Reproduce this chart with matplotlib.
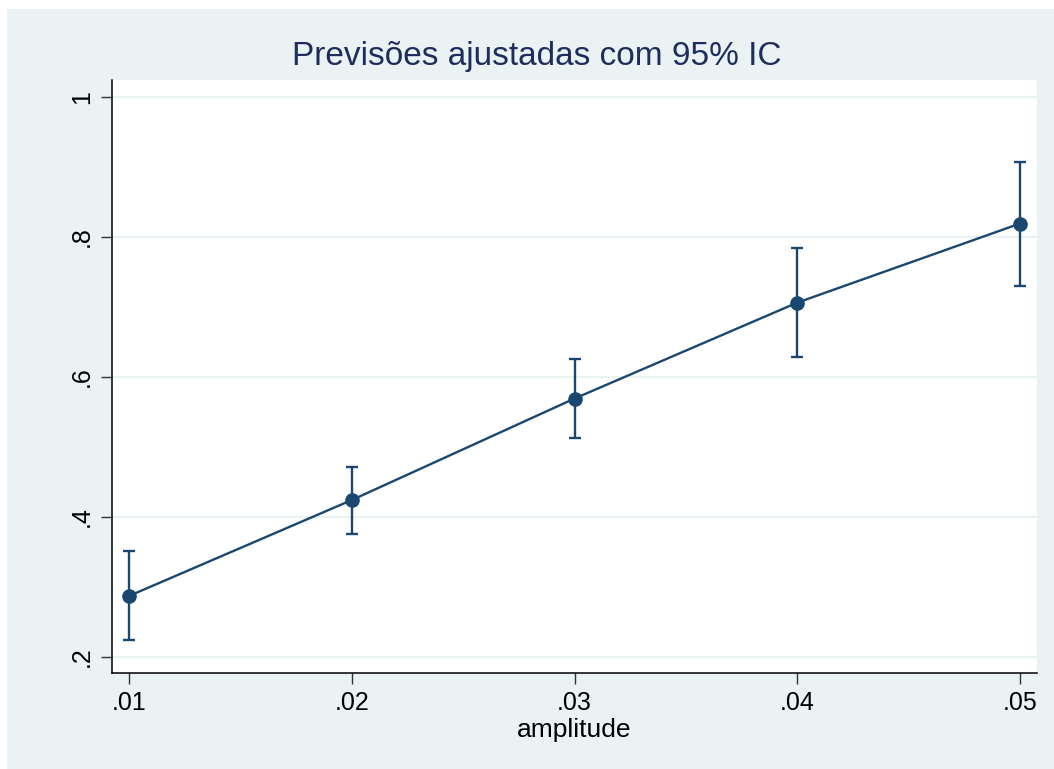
"""Margens ajustadas com IC de 95% por amplitude (matplotlib)."""
import matplotlib.pyplot as plt
from matplotlib.patches import Rectangle

plt.rcParams["font.family"] = ["Liberation Sans", "DejaVu Sans"]

# valores previstos e limites do IC 95%
amplitude = [0.01, 0.02, 0.03, 0.04, 0.05]
previsto = [0.287, 0.424, 0.569, 0.706, 0.819]
ic_inf = [0.224, 0.376, 0.513, 0.629, 0.730]
ic_sup = [0.351, 0.471, 0.626, 0.784, 0.907]

xticks = [0.01, 0.02, 0.03, 0.04, 0.05]
xticklabels = [".01", ".02", ".03", ".04", ".05"]
yticks = [0.2, 0.4, 0.6, 0.8, 1.0]
yticklabels = [".2", ".4", ".6", ".8", "1"]

NAVY = "#1a476f"
BG = "#eaf2f3"

fig = plt.figure(figsize=(10.54, 7.69), dpi=100, facecolor=BG)
# faixa branca no topo e à esquerda
fig.patches.append(Rectangle((0, 1 - 9 / 769), 1, 9 / 769, transform=fig.transFigure,
                             facecolor="white", edgecolor="none", zorder=0))
fig.patches.append(Rectangle((0, 0), 7 / 1054, 1, transform=fig.transFigure,
                             facecolor="white", edgecolor="none", zorder=0))

ax = fig.add_axes([112 / 1054, 96 / 769, 925 / 1054, 593 / 769])
ax.set_facecolor("white")

err_low = [p - lo for p, lo in zip(previsto, ic_inf)]
err_high = [hi - p for p, hi in zip(previsto, ic_sup)]
ax.errorbar(amplitude, previsto, yerr=[err_low, err_high], fmt="none",
            ecolor=NAVY, elinewidth=1.7, capsize=4, capthick=1.7, zorder=3)
ax.plot(amplitude, previsto, "o-", color=NAVY, linewidth=1.7, markersize=9.5, zorder=4)

ax.set_xlim(0.00924, 0.05076)
ax.set_ylim(0.177, 1.024)
ax.set_xticks(xticks)
ax.set_xticklabels(xticklabels)
ax.set_yticks(yticks)
ax.set_yticklabels(yticklabels, rotation=90, va="center")
ax.tick_params(axis="both", length=8, width=1, color="#333333", labelsize=18, pad=5)
ax.grid(axis="y", color=BG, linewidth=1.6)
ax.set_axisbelow(True)

for side in ["top", "right"]:
    ax.spines[side].set_visible(False)
for side in ["left", "bottom"]:
    ax.spines[side].set_color("black")
    ax.spines[side].set_linewidth(1.1)

ax.set_xlabel("amplitude", fontsize=19, labelpad=2)
fig.text(537 / 1054, 1 - 57 / 769, "Previsões ajustadas com 95% IC", ha="center", va="center",
         fontsize=24, color="#1e2d5c")

fig.savefig("out.png", dpi=100, facecolor=fig.get_facecolor())
